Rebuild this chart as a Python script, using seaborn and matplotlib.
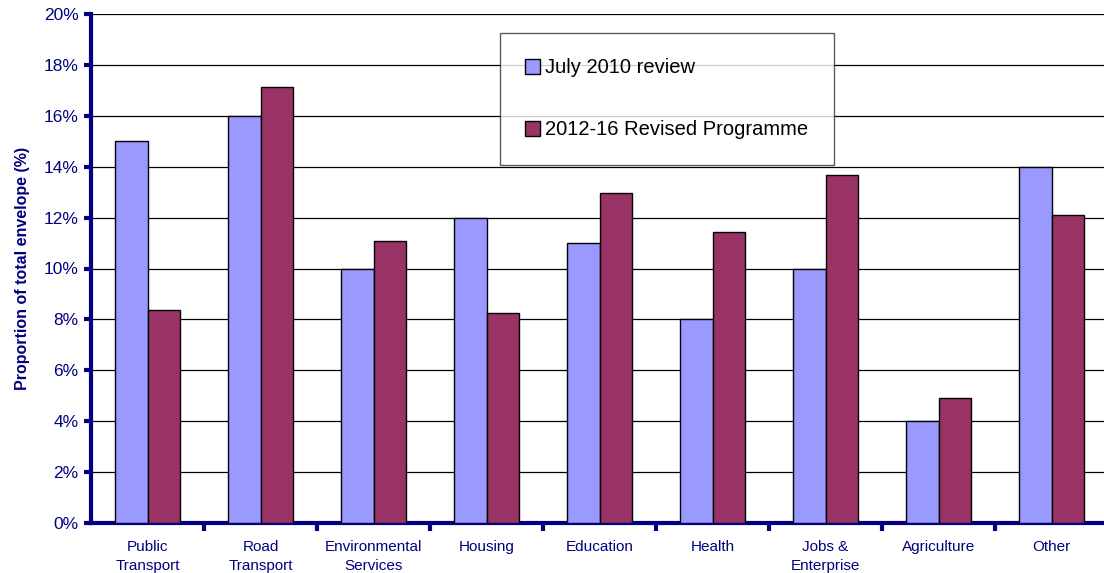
import pandas as pd
import matplotlib.pyplot as plt
import matplotlib.ticker as mticker
import seaborn as sns

# ─── DATA ─────────────────────────────────────────────────────────────────────
categories = ["Public\nTransport", "Road\nTransport", "Environmental\nServices",
              "Housing", "Education", "Health", "Jobs &\nEnterprise",
              "Agriculture", "Other"]
july_2010 = [15.0, 16.0, 10.0, 12.0, 11.0, 8.0, 10.0, 4.0, 14.0]
revised_2012_16 = [8.35, 17.15, 11.1, 8.27, 12.95, 11.42, 13.68, 4.92, 12.1]
series_names = ["July 2010 review", "2012-16 Revised Programme"]

df = pd.DataFrame({
    "category": categories * 2,
    "value": july_2010 + revised_2012_16,
    "series": [series_names[0]] * len(categories) + [series_names[1]] * len(categories),
})

# ─── STYLE ────────────────────────────────────────────────────────────────────
sns.set_theme(style="white")
plt.rcParams["font.family"] = ["Liberation Sans", "DejaVu Sans"]
NAVY = "#000080"
COLORS = ["#9999FF", "#993366"]

fig = plt.figure(figsize=(11.04, 5.73), dpi=100)
ax = fig.add_axes([91 / 1104, 1 - 523 / 573, 1017 / 1104, 509 / 573])

sns.barplot(data=df, x="category", y="value", hue="series", palette=COLORS,
            saturation=1, width=0.57, edgecolor="black", linewidth=1.0,
            ax=ax, zorder=3, legend=True)

ax.set_ylim(0, 20)
ax.set_xlim(-0.5, len(categories) - 0.5)
ax.yaxis.set_major_locator(mticker.MultipleLocator(2))
ax.yaxis.set_major_formatter(mticker.FuncFormatter(lambda v, _: f"{v:.0f}%"))
ax.grid(axis="y", color="black", linewidth=0.9, zorder=0)
ax.set_axisbelow(True)

for side in ["top", "right"]:
    ax.spines[side].set_visible(False)
for side in ["left", "bottom"]:
    ax.spines[side].set_color(NAVY)
    ax.spines[side].set_linewidth(3)

# x ticks at category boundaries, labels centred
ax.set_xticks([i + 0.5 for i in range(len(categories) - 1)], minor=False)
ax.set_xticklabels([])
ax.set_xticks(range(len(categories)), minor=True)
ax.set_xticklabels(categories, minor=True, color=NAVY, fontsize=11,
                   linespacing=1.45)
ax.tick_params(axis="x", which="major", direction="out", length=6, width=3,
               color=NAVY, bottom=True)
ax.tick_params(axis="x", which="minor", length=0, pad=12)
ax.tick_params(axis="y", direction="out", length=5, width=3, color=NAVY,
               labelcolor=NAVY, labelsize=12.5, left=True, pad=4)

ax.set_xlabel("")
ax.set_ylabel("Proportion of total envelope (%)", color=NAVY, fontsize=11.5,
              fontweight="bold", labelpad=10)

leg = ax.legend(loc="upper left", bbox_to_anchor=(409 / 1017, 490 / 509),
                frameon=True, fancybox=False, fontsize=14.5, labelspacing=2.15,
                handlelength=0.75, handleheight=0.75, handletextpad=0.25,
                borderpad=1.25, borderaxespad=0, labelcolor="black")
leg.get_frame().set_edgecolor("#333333")
leg.get_frame().set_linewidth(1.0)

plt.savefig("out.png", dpi=100, facecolor="white")
plt.close()
